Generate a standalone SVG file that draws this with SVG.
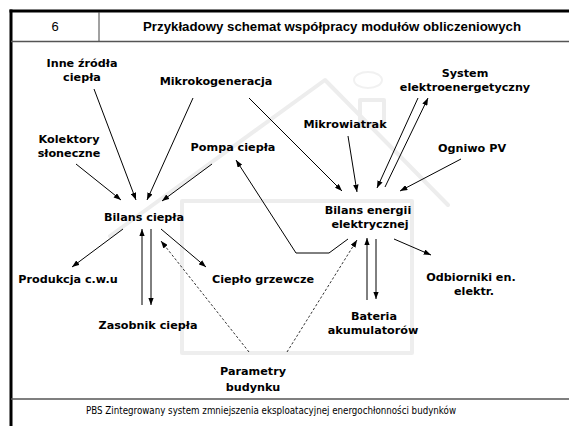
<svg xmlns="http://www.w3.org/2000/svg" width="569" height="426" viewBox="0 0 569 426">
  <style>
    .lbl { font-family: "DejaVu Sans", Verdana, sans-serif; font-weight: bold; font-size: 11.2px; fill: #000; text-anchor: middle; }
    .ln { stroke: #000; stroke-width: 1; fill: none; marker-end: url(#ah); }
    .dash { stroke: #000; stroke-width: 0.8; fill: none; stroke-dasharray: 2.5 2; marker-end: url(#ah); }
    .wm { stroke: #ececec; stroke-width: 4; fill: none; stroke-linecap: round; stroke-linejoin: round; }
  </style>
  <defs>
    <marker id="ah" viewBox="0 0 8 6" refX="8" refY="3" markerWidth="7.5" markerHeight="5.5" markerUnits="userSpaceOnUse" orient="auto">
      <path d="M0,0 L8,3 L0,6 z" fill="#000"/>
    </marker>
  </defs>

  <rect width="569" height="426" fill="#fff"/>

  <!-- faint house watermark in the background -->
  <g id="watermark" opacity="0.9">
    <polyline class="wm" points="110,236 325,80 448,205"/>
    <rect class="wm" x="182" y="201" width="230" height="152"/>
    <rect class="wm" x="360" y="100" width="24" height="26" stroke-width="2.5"/>
    <ellipse cx="368" cy="80" rx="14" ry="8" fill="none" stroke="#f0f0f0" stroke-width="2"/>
  </g>

  <!-- page frame -->
  <g id="frame">
    <line x1="9.5" y1="11" x2="569" y2="11" stroke="#000" stroke-width="3"/>
    <line x1="11" y1="9.5" x2="11" y2="426" stroke="#000" stroke-width="3"/>
    <line x1="11" y1="41.5" x2="569" y2="41.5" stroke="#555" stroke-width="1.3"/>
    <line x1="99" y1="12" x2="99" y2="41" stroke="#444" stroke-width="1"/>
    <line x1="11" y1="399" x2="569" y2="399" stroke="#555" stroke-width="1.3"/>
    <text x="55" y="31" font-family="'Liberation Sans', Arial, sans-serif" font-size="13" text-anchor="middle">6</text>
    <text x="332" y="31" font-family="'Liberation Sans', Arial, sans-serif" font-size="13" font-weight="bold" text-anchor="middle" textLength="378" lengthAdjust="spacingAndGlyphs">Przykładowy schemat współpracy modułów obliczeniowych</text>
    <text x="271" y="414" font-family="'DejaVu Sans', Tahoma, sans-serif" font-size="10" text-anchor="middle" textLength="370" lengthAdjust="spacingAndGlyphs">PBS Zintegrowany system zmniejszenia eksploatacyjnej energochłonności budynków</text>
  </g>

  <!-- nodes -->
  <g id="inne-zrodla"><text class="lbl" x="82" y="67">Inne źródła</text><text class="lbl" x="82" y="81">ciepła</text></g>
  <g id="mikrokogeneracja"><text class="lbl" x="216" y="85">Mikrokogeneracja</text></g>
  <g id="kolektory"><text class="lbl" x="69" y="143">Kolektory</text><text class="lbl" x="69" y="157">słoneczne</text></g>
  <g id="pompa"><text class="lbl" x="233" y="151">Pompa ciepła</text></g>
  <g id="bilans-ciepla"><text class="lbl" x="144" y="221">Bilans ciepła</text></g>
  <g id="system"><text class="lbl" x="465" y="77">System</text><text class="lbl" x="465" y="91">elektroenergetyczny</text></g>
  <g id="mikrowiatrak"><text class="lbl" x="345" y="128">Mikrowiatrak</text></g>
  <g id="ogniwo"><text class="lbl" x="472" y="152">Ogniwo PV</text></g>
  <g id="bilans-energii"><text class="lbl" x="368" y="214">Bilans energii</text><text class="lbl" x="370" y="228">elektrycznej</text></g>
  <g id="produkcja"><text class="lbl" x="68" y="283">Produkcja c.w.u</text></g>
  <g id="cieplo-grzewcze"><text class="lbl" x="263" y="283">Ciepło grzewcze</text></g>
  <g id="zasobnik"><text class="lbl" x="148" y="329">Zasobnik ciepła</text></g>
  <g id="odbiorniki"><text class="lbl" x="471" y="281">Odbiorniki en.</text><text class="lbl" x="474" y="295">elektr.</text></g>
  <g id="bateria"><text class="lbl" x="374" y="320">Bateria</text><text class="lbl" x="373" y="334">akumulatorów</text></g>
  <g id="parametry"><text class="lbl" x="253" y="375">Parametry</text><text class="lbl" x="253" y="391">budynku</text></g>

  <!-- connectors -->
  <g id="connectors">
    <line class="ln" x1="94" y1="89" x2="136" y2="200"/>
    <line class="ln" x1="193" y1="98" x2="147" y2="200"/>
    <line class="ln" x1="76" y1="164" x2="121" y2="200"/>
    <line class="ln" x1="212" y1="164" x2="162" y2="201"/>
    <line class="ln" x1="249" y1="98" x2="342" y2="191"/>
    <line class="ln" x1="348" y1="136" x2="357" y2="192"/>
    <line class="ln" x1="418" y1="98" x2="377" y2="188"/>
    <line class="ln" x1="385" y1="187" x2="428" y2="98"/>
    <line class="ln" x1="461" y1="159" x2="400" y2="191"/>
    <polyline class="ln" points="348,239 329,253 296,253 236,160"/>
    <line class="ln" x1="123" y1="229" x2="72" y2="267"/>
    <line class="ln" x1="142" y1="305" x2="142" y2="229"/>
    <line class="ln" x1="151" y1="229" x2="151" y2="305"/>
    <line class="ln" x1="161" y1="229" x2="206" y2="267"/>
    <line class="dash" x1="249" y1="352" x2="161" y2="241"/>
    <line class="dash" x1="287" y1="352" x2="357" y2="240"/>
    <line class="ln" x1="367" y1="300" x2="367" y2="238"/>
    <line class="ln" x1="376" y1="239" x2="376" y2="299"/>
    <line class="ln" x1="394" y1="239" x2="431" y2="255"/>
  </g>
</svg>
